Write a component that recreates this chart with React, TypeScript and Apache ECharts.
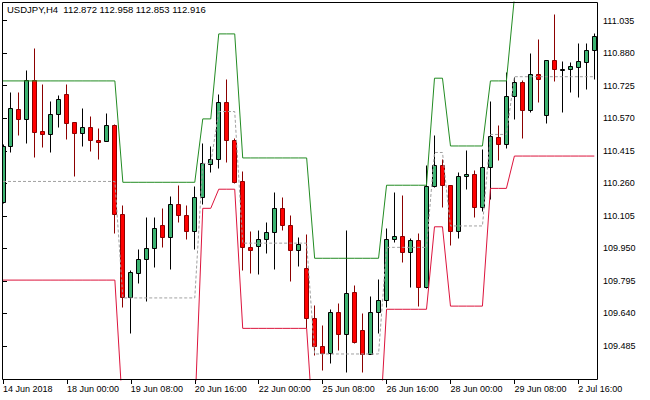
import React, { useEffect, useRef } from "react";
import * as echarts from "echarts";

const titleText = "USDJPY,H4  112.872 112.958 112.853 112.916";

const xTickIndex = [0, 8, 16, 24, 32, 40, 48, 56, 64, 72];
const xTickLabels = [
  "14 Jun 2018", "18 Jun 00:00", "19 Jun 08:00", "20 Jun 16:00", "22 Jun 00:00",
  "25 Jun 08:00", "26 Jun 16:00", "28 Jun 00:00", "29 Jun 08:00", "2 Jul 16:00",
];
const yTickValues = [109.485, 109.64, 109.795, 109.95, 110.105, 110.26, 110.415, 110.57, 110.725, 110.88, 111.035];

const opens = [
  110.171, 110.438, 110.614, 110.567, 110.752, 110.509, 110.493, 110.590, 110.686, 110.552,
  110.500, 110.528, 110.467, 110.462, 110.538, 110.114, 109.718, 109.834, 109.899, 109.952,
  110.061, 110.004, 110.162, 110.109, 110.033, 110.195, 110.352, 110.376, 110.648, 110.467,
  110.271, 109.957, 109.961, 109.995, 110.028, 110.142, 110.061, 109.942, 109.857, 109.618,
  109.485, 109.453, 109.647, 109.542, 109.742, 109.561, 109.449, 109.647, 109.704, 109.995,
  110.009, 109.933, 109.990, 109.766, 110.247, 110.347, 110.252, 110.035, 110.293, 110.305,
  110.145, 110.339, 110.482, 110.446, 110.675, 110.743, 110.609, 110.780, 110.584, 110.846,
  110.801, 110.803, 110.816, 110.840, 110.894,
];
const closes = [
  110.438, 110.619, 110.567, 110.752, 110.505, 110.493, 110.590, 110.662, 110.548, 110.500,
  110.528, 110.467, 110.457, 110.538, 110.114, 109.718, 109.838, 109.899, 109.952, 110.047,
  110.004, 110.162, 110.109, 110.033, 110.195, 110.357, 110.376, 110.648, 110.467, 110.266,
  109.957, 109.942, 109.995, 110.028, 110.142, 110.061, 109.942, 109.971, 109.618, 109.485,
  109.453, 109.647, 109.542, 109.737, 109.504, 109.449, 109.647, 109.704, 109.995, 110.009,
  109.933, 109.990, 109.766, 110.247, 110.347, 110.252, 110.035, 110.293, 110.305, 110.145,
  110.339, 110.486, 110.446, 110.675, 110.743, 110.609, 110.780, 110.756, 110.846, 110.803,
  110.806, 110.818, 110.843, 110.894, 110.962,
];
const lows = [
  110.166, 110.409, 110.490, 110.452, 110.386, 110.433, 110.409, 110.528, 110.471, 110.295,
  110.438, 110.414, 110.376, 110.462, 110.023, 109.671, 109.547, 109.785, 109.699, 109.861,
  109.957, 109.852, 110.076, 109.995, 109.947, 110.162, 110.314, 110.333, 110.362, 110.262,
  109.847, 109.833, 109.828, 109.928, 109.852, 110.038, 109.795, 109.866, 109.571, 109.442,
  109.371, 109.406, 109.466, 109.361, 109.499, 109.361, 109.449, 109.547, 109.671, 109.980,
  109.885, 109.766, 109.675, 109.761, 110.243, 110.147, 109.966, 109.999, 110.233, 110.100,
  110.128, 110.185, 110.371, 110.427, 110.567, 110.476, 110.601, 110.649, 110.549, 110.749,
  110.601, 110.697, 110.673, 110.708, 110.756,
];
const highs = [
  110.447, 110.695, 110.695, 110.800, 110.905, 110.733, 110.652, 110.681, 110.733, 110.552,
  110.619, 110.581, 110.524, 110.595, 110.543, 110.157, 109.847, 109.947, 110.100, 110.100,
  110.142, 110.200, 110.252, 110.157, 110.247, 110.452, 110.438, 110.686, 110.757, 110.476,
  110.319, 110.033, 110.038, 110.076, 110.219, 110.195, 110.109, 110.004, 110.019, 109.680,
  109.585, 109.661, 109.690, 110.038, 109.776, 109.642, 109.723, 109.804, 110.047, 110.219,
  110.204, 109.999, 110.023, 110.347, 110.490, 110.376, 110.252, 110.312, 110.419, 110.324,
  110.425, 110.654, 110.538, 110.792, 110.767, 110.752, 110.882, 110.946, 110.846, 111.067,
  110.843, 110.840, 110.927, 110.927, 110.978,
];

const upperBand = [
  110.748, 110.748, 110.748, 110.748, 110.748, 110.748, 110.748, 110.748, 110.748, 110.748,
  110.748, 110.748, 110.748, 110.748, 110.748, 110.265, 110.265, 110.265, 110.265, 110.265,
  110.265, 110.265, 110.265, 110.265, 110.265, 110.567, 110.567, 110.972, 110.972, 110.972,
  110.381, 110.381, 110.381, 110.381, 110.381, 110.381, 110.381, 110.381, 110.381, 109.903,
  109.903, 109.903, 109.903, 109.903, 109.903, 109.903, 109.903, 109.903, 110.251, 110.251,
  110.251, 110.251, 110.251, 110.251, 110.761, 110.761, 110.438, 110.438, 110.438, 110.438,
  110.438, 110.748, 110.748, 110.748, 111.146, 111.146, 111.146, 111.146, 111.146, 111.146,
  111.146, 111.146, 111.146, 111.146, 111.146,
];
const lowerBand = [
  109.799, 109.799, 109.799, 109.799, 109.799, 109.799, 109.799, 109.799, 109.799, 109.799,
  109.799, 109.799, 109.799, 109.799, 109.799, 109.161, 109.161, 109.161, 109.161, 109.161,
  109.161, 109.161, 109.161, 109.161, 109.161, 110.141, 110.141, 110.232, 110.232, 110.232,
  109.569, 109.569, 109.569, 109.569, 109.569, 109.569, 109.569, 109.569, 109.569, 108.989,
  108.989, 108.989, 108.989, 108.989, 108.989, 108.989, 108.989, 108.989, 109.660, 109.660,
  109.660, 109.660, 109.660, 109.660, 110.053, 110.053, 109.675, 109.675, 109.675, 109.675,
  109.675, 110.236, 110.236, 110.236, 110.390, 110.390, 110.390, 110.390, 110.390, 110.390,
  110.390, 110.390, 110.390, 110.390, 110.390,
];
const midBand = [
  110.269, 110.269, 110.269, 110.269, 110.269, 110.269, 110.269, 110.269, 110.269, 110.269,
  110.269, 110.269, 110.269, 110.269, 110.269, 109.714, 109.714, 109.714, 109.714, 109.714,
  109.714, 109.714, 109.714, 109.714, 109.714, 110.355, 110.355, 110.602, 110.602, 110.602,
  109.975, 109.975, 109.975, 109.975, 109.975, 109.975, 109.975, 109.975, 109.975, 109.447,
  109.447, 109.447, 109.447, 109.447, 109.447, 109.447, 109.447, 109.447, 109.955, 109.955,
  109.955, 109.955, 109.955, 109.955, 110.407, 110.407, 110.057, 110.057, 110.057, 110.057,
  110.057, 110.493, 110.493, 110.493, 110.768, 110.768, 110.768, 110.768, 110.768, 110.768,
  110.768, 110.768, 110.768, 110.768, 110.768,
];

const FONT = "Liberation Sans, Arial, sans-serif";

export default function App() {
  const ref = useRef<HTMLDivElement>(null);

  useEffect(() => {
    document.body.style.margin = "0";
    if (!ref.current) return;
    const chart = echarts.init(ref.current, undefined, { renderer: "svg" });

    const candleData = opens.map((o, i) => [i, o, closes[i], lows[i], highs[i]]);
    const toPairs = (arr: number[]) => arr.map((v, i) => [i, v]);

    const option: any = {
      animation: false,
      backgroundColor: "#ffffff",
      textStyle: { fontFamily: FONT },
      title: {
        text: titleText,
        left: 7,
        top: 4,
        padding: 0,
        textStyle: { fontSize: 9.5, fontWeight: "normal", color: "#000", fontFamily: FONT },
      },
      grid: { left: 2, right: 52, top: 2, bottom: 20 },
      xAxis: {
        type: "value",
        min: -0.0375,
        max: 74.4625,
        axisLine: { show: false },
        splitLine: { show: false },
        axisTick: {
          show: true,
          length: 4,
          lineStyle: { color: "#000" },
          customValues: xTickIndex,
        },
        axisLabel: {
          customValues: xTickIndex,
          formatter: (v: number) => xTickLabels[xTickIndex.indexOf(Math.round(v))] ?? "",
          align: "left",
          margin: 4,
          fontSize: 9,
          color: "#000",
          fontFamily: FONT,
        },
      },
      yAxis: {
        type: "value",
        position: "right",
        min: 109.323,
        max: 111.124,
        scale: true,
        axisLine: { show: false },
        splitLine: { show: false },
        axisTick: {
          show: true,
          length: 4,
          lineStyle: { color: "#000" },
          customValues: yTickValues,
        },
        axisLabel: {
          customValues: yTickValues,
          formatter: (v: number) => v.toFixed(3),
          margin: 5,
          fontSize: 9,
          color: "#000",
          fontFamily: FONT,
        },
      },
      graphic: [
        {
          type: "rect",
          shape: { x: 2.5, y: 2.5, width: 595, height: 377 },
          style: { fill: "none", stroke: "#000", lineWidth: 1 },
          silent: true,
          z: 100,
        },
      ],
      series: [
        {
          type: "custom",
          clip: true,
          data: candleData,
          encode: { x: 0, y: [1, 2, 3, 4] },
          z: 2,
          renderItem: (_params: any, api: any) => {
            const idx = api.value(0);
            const o = api.value(1);
            const c = api.value(2);
            const l = api.value(3);
            const h = api.value(4);
            const po = api.coord([idx, o]);
            const yc = api.coord([idx, c])[1];
            const yl = api.coord([idx, l])[1];
            const yh = api.coord([idx, h])[1];
            const bull = c >= o;
            const x = Math.floor(po[0]) + 0.5;
            const top = Math.round(Math.min(po[1], yc)) + 0.5;
            const bot = Math.round(Math.max(po[1], yc)) + 0.5;
            const edge = bull ? "#000000" : "#8B0000";
            const fill = bull ? "#3CB371" : "#FF0000";
            return {
              type: "group",
              children: [
                {
                  type: "line",
                  shape: { x1: x, y1: Math.round(yh) + 0.5, x2: x, y2: Math.round(yl) + 0.5 },
                  style: { stroke: edge, lineWidth: 1 },
                },
                {
                  type: "rect",
                  shape: { x: x - 2, y: top, width: 4, height: Math.max(bot - top, 1) },
                  style: { fill, stroke: edge, lineWidth: 1 },
                },
              ],
            };
          },
        },
        {
          type: "line",
          data: toPairs(midBand),
          showSymbol: false,
          symbol: "none",
          silent: true,
          z: 3,
          lineStyle: { color: "#A0A0A0", width: 1, type: [3, 2] },
        },
        {
          type: "line",
          data: toPairs(upperBand),
          showSymbol: false,
          symbol: "none",
          silent: true,
          z: 4,
          lineStyle: { color: "#228B22", width: 1 },
        },
        {
          type: "line",
          data: toPairs(lowerBand),
          showSymbol: false,
          symbol: "none",
          silent: true,
          z: 4,
          lineStyle: { color: "#DC143C", width: 1 },
        },
      ],
    };

    chart.setOption(option);
    return () => chart.dispose();
  }, []);

  return <div ref={ref} style={{ width: 650, height: 400 }} />;
}
